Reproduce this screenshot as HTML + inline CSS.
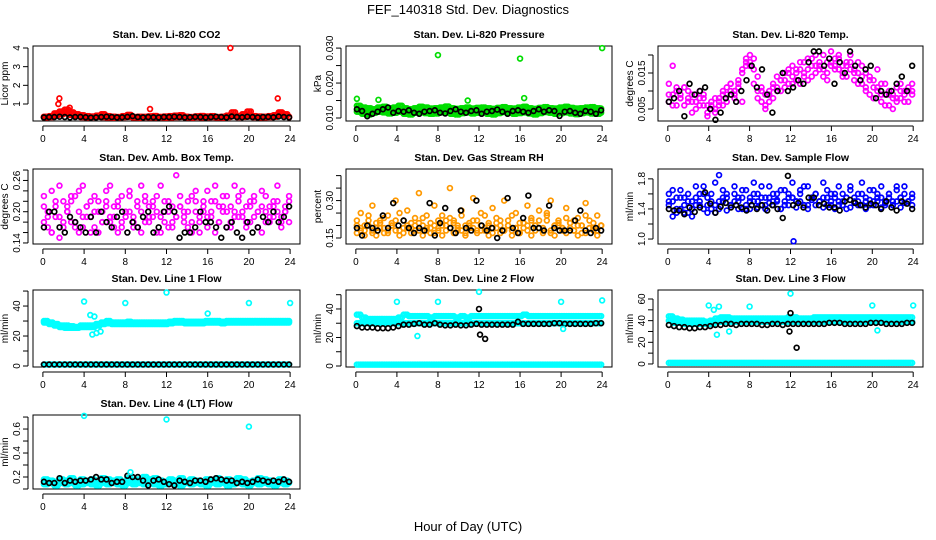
<!DOCTYPE html>
<html><head><meta charset="utf-8"><style>
body{margin:0;background:#fff;}
svg{display:block;font-family:"Liberation Sans",sans-serif;}
</style></head><body>
<svg id="chart" width="936" height="540" viewBox="0 0 936 540" xmlns="http://www.w3.org/2000/svg">
<text x="468" y="14" text-anchor="middle" font-size="13">FEF_140318  Std. Dev. Diagnostics</text>
<text x="468" y="531" text-anchor="middle" font-size="13">Hour of Day (UTC)</text>
</svg>
<script>
// ---------- data ----------
const hourTicks=[0,4,8,12,16,20,24];
const co2Red=[0.32,0.35,0.5,0.6,0.7,0.55,0.45,0.4,0.35,0.33,0.38,0.45,0.35,0.32,0.3,0.35,0.42,0.3,0.32,0.31,0.34,0.36,0.3,0.33,0.35,0.38,0.4,0.32,0.3,0.34,0.36,0.33,0.35,0.3,0.32,0.38,0.55,0.35,0.45,0.6,0.35,0.33,0.32,0.35,0.4,0.55,0.45,0.32];
const co2Red2=[0.28,0.3,0.4,0.45,0.5,0.42,0.36,0.3,0.28,0.3,0.32,0.3,0.28,0.27,0.29,0.3,0.31,0.28,0.27,0.3,0.29,0.28,0.3,0.27,0.28,0.3,0.31,0.28,0.27,0.3,0.28,0.29,0.3,0.28,0.27,0.3,0.35,0.3,0.31,0.33,0.3,0.28,0.29,0.3,0.32,0.5,0.4,0.28];
const co2Black=[0.28,0.3,0.3,0.32,0.3,0.28,0.3,0.31,0.29,0.27,0.28,0.3,0.32,0.3,0.28,0.29,0.31,0.35,0.3,0.28,0.3,0.29,0.28,0.3,0.3,0.32,0.3,0.28,0.29,0.31,0.3,0.28,0.3,0.32,0.3,0.28,0.33,0.3,0.29,0.32,0.3,0.28,0.3,0.31,0.29,0.33,0.3,0.28];
const co2OutT=[18.2,1.6,1.5,22.8,10.4,2.6];
const co2OutV=[4.0,1.3,1.0,1.3,0.73,0.8];
const presGreen=[0.0135,0.013,0.0128,0.0125,0.013,0.0132,0.0128,0.013,0.0135,0.0128,0.0125,0.0128,0.0132,0.013,0.0127,0.0128,0.013,0.0133,0.0128,0.0126,0.0128,0.013,0.0127,0.0129,0.013,0.0128,0.0126,0.0129,0.0131,0.0128,0.0127,0.013,0.0132,0.0128,0.0126,0.0129,0.0131,0.0128,0.0127,0.013,0.0132,0.0129,0.0127,0.0128,0.013,0.0131,0.0128,0.0127];
const presGreen2=[0.0118,0.0112,0.011,0.0115,0.0118,0.0116,0.0113,0.0115,0.0118,0.0112,0.011,0.0115,0.0117,0.0114,0.0112,0.0113,0.0116,0.0118,0.0112,0.011,0.0114,0.0116,0.0113,0.0115,0.0117,0.0112,0.011,0.0114,0.0117,0.0115,0.0112,0.0114,0.0116,0.0113,0.011,0.0114,0.0117,0.0115,0.0112,0.0114,0.0116,0.0113,0.0111,0.0114,0.0116,0.0113,0.0112,0.0115];
const presBlack=[0.0125,0.012,0.0105,0.0112,0.0118,0.0125,0.013,0.0115,0.012,0.0118,0.0122,0.0115,0.0112,0.0118,0.012,0.0122,0.0115,0.0113,0.012,0.0125,0.0118,0.0115,0.012,0.0122,0.0112,0.0118,0.012,0.0124,0.0118,0.0112,0.012,0.0122,0.0118,0.0115,0.012,0.0125,0.0118,0.0122,0.012,0.0106,0.0118,0.012,0.0115,0.0112,0.012,0.0118,0.0112,0.0122];
const presOutT=[8.0,16.0,24.0,0.1,16.4,2.2,10.9];
const presOutV=[0.028,0.027,0.030,0.0155,0.0157,0.0152,0.015];
const liTemp=[0.012,0.017,0.006,0.009,0.011,0.008,0.004,0.007,0.01,0.009,0.006,0.005,0.004,0.007,0.009,0.011,0.01,0.008,0.012,0.015,0.018,0.02,0.019,0.014,0.011,0.009,0.007,0.012,0.01,0.013,0.011,0.015,0.014,0.016,0.012,0.018,0.013,0.017,0.02,0.016,0.014,0.018,0.021,0.017,0.019,0.015,0.018,0.02,0.016,0.018,0.017,0.015,0.013,0.011,0.016,0.012,0.009,0.01,0.008,0.007,0.012,0.009,0.01,0.012];
const liTemp2=[0.007,0.009,0.011,0.008,0.006,0.01,0.007,0.009,0.006,0.008,0.003,0.006,0.008,0.006,0.01,0.007,0.012,0.009,0.011,0.007,0.017,0.018,0.016,0.01,0.007,0.006,0.01,0.008,0.011,0.013,0.015,0.012,0.017,0.013,0.016,0.015,0.019,0.014,0.017,0.018,0.016,0.013,0.017,0.019,0.016,0.014,0.017,0.018,0.015,0.012,0.014,0.011,0.009,0.013,0.01,0.007,0.006,0.009,0.005,0.008,0.01,0.007,0.011,0.009];
const liTemp3=[0.009,0.006,0.01,0.008,0.011,0.007,0.009,0.005,0.008,0.006,0.004,0.007,0.005,0.008,0.006,0.009,0.012,0.01,0.013,0.016,0.019,0.017,0.012,0.008,0.01,0.005,0.009,0.011,0.014,0.01,0.013,0.016,0.012,0.015,0.018,0.014,0.016,0.019,0.015,0.017,0.02,0.015,0.018,0.016,0.02,0.017,0.014,0.016,0.013,0.015,0.012,0.01,0.014,0.008,0.011,0.009,0.012,0.006,0.009,0.011,0.008,0.01,0.007,0.01];
const liTempBlack=[0.007,0.008,0.01,0.003,0.012,0.009,0.01,0.011,0.005,0.002,0.004,0.008,0.009,0.007,0.01,0.013,0.017,0.011,0.016,0.009,0.004,0.01,0.015,0.01,0.011,0.013,0.012,0.018,0.021,0.021,0.017,0.019,0.012,0.018,0.015,0.021,0.017,0.013,0.016,0.017,0.008,0.01,0.009,0.01,0.012,0.014,0.01,0.017];
const ambMag=[0.21,0.17,0.24,0.19,0.15,0.22,0.2,0.18,0.23,0.16,0.25,0.21,0.19,0.17,0.22,0.2,0.24,0.18,0.21,0.16,0.23,0.19,0.2,0.17,0.22,0.25,0.18,0.21,0.19,0.23,0.16,0.2,0.22,0.18,0.27,0.21,0.19,0.17,0.23,0.2,0.18,0.22,0.24,0.19,0.16,0.21,0.23,0.2,0.18,0.25,0.22,0.19,0.17,0.21,0.23,0.2,0.24,0.18,0.21,0.19,0.22,0.17,0.2,0.23];
const ambMag2=[0.18,0.2,0.16,0.22,0.19,0.17,0.21,0.23,0.18,0.2,0.17,0.19,0.22,0.2,0.16,0.18,0.21,0.19,0.17,0.22,0.18,0.2,0.23,0.19,0.17,0.2,0.22,0.18,0.21,0.16,0.19,0.22,0.2,0.17,0.19,0.21,0.18,0.2,0.16,0.22,0.19,0.21,0.17,0.2,0.22,0.18,0.2,0.17,0.21,0.19,0.23,0.2,0.18,0.22,0.19,0.17,0.21,0.2,0.18,0.22,0.2,0.19,0.21,0.18];
const ambMag3=[0.23,0.19,0.16,0.21,0.25,0.18,0.2,0.22,0.17,0.24,0.19,0.21,0.16,0.23,0.2,0.18,0.22,0.25,0.19,0.21,0.17,0.2,0.24,0.18,0.21,0.16,0.23,0.19,0.22,0.2,0.25,0.18,0.17,0.21,0.19,0.23,0.2,0.22,0.18,0.24,0.16,0.2,0.19,0.22,0.25,0.18,0.21,0.23,0.17,0.2,0.19,0.24,0.21,0.18,0.22,0.2,0.16,0.23,0.19,0.21,0.25,0.18,0.2,0.22];
const ambBlack=[0.17,0.2,0.2,0.17,0.16,0.19,0.18,0.17,0.16,0.19,0.16,0.2,0.18,0.17,0.19,0.2,0.16,0.18,0.17,0.19,0.2,0.16,0.17,0.2,0.21,0.2,0.15,0.16,0.16,0.17,0.2,0.18,0.18,0.17,0.15,0.17,0.18,0.16,0.15,0.18,0.16,0.17,0.19,0.18,0.2,0.18,0.19,0.21];
const rhOrange=[0.2,0.25,0.18,0.22,0.28,0.19,0.21,0.17,0.24,0.2,0.3,0.18,0.22,0.26,0.19,0.2,0.33,0.23,0.18,0.21,0.28,0.19,0.24,0.2,0.35,0.22,0.18,0.26,0.2,0.19,0.31,0.22,0.18,0.24,0.2,0.27,0.19,0.22,0.3,0.2,0.18,0.25,0.21,0.19,0.28,0.22,0.2,0.26,0.18,0.24,0.3,0.2,0.22,0.19,0.27,0.21,0.18,0.23,0.2,0.29,0.22,0.19,0.24,0.2];
const rhOrange2=[0.17,0.19,0.16,0.2,0.18,0.16,0.22,0.19,0.17,0.21,0.18,0.16,0.19,0.2,0.17,0.18,0.21,0.16,0.19,0.17,0.2,0.18,0.16,0.22,0.19,0.17,0.2,0.18,0.16,0.21,0.19,0.17,0.2,0.18,0.16,0.19,0.21,0.17,0.18,0.2,0.16,0.19,0.17,0.21,0.18,0.16,0.2,0.19,0.17,0.22,0.18,0.16,0.2,0.19,0.17,0.21,0.18,0.16,0.2,0.17,0.19,0.18,0.16,0.2];
const rhOrange3=[0.22,0.18,0.2,0.24,0.17,0.21,0.19,0.23,0.18,0.2,0.22,0.25,0.17,0.19,0.21,0.23,0.18,0.2,0.24,0.19,0.17,0.22,0.2,0.18,0.23,0.21,0.19,0.24,0.17,0.2,0.22,0.18,0.25,0.19,0.21,0.17,0.23,0.2,0.18,0.22,0.24,0.19,0.17,0.21,0.2,0.23,0.18,0.22,0.19,0.25,0.17,0.2,0.21,0.18,0.23,0.19,0.22,0.2,0.17,0.24,0.19,0.21,0.18,0.2];
const rhBlack=[0.19,0.16,0.2,0.19,0.18,0.24,0.19,0.29,0.2,0.22,0.19,0.17,0.19,0.18,0.29,0.16,0.21,0.27,0.19,0.17,0.26,0.19,0.18,0.3,0.2,0.18,0.19,0.15,0.18,0.31,0.19,0.17,0.23,0.32,0.19,0.19,0.18,0.28,0.19,0.18,0.18,0.18,0.22,0.26,0.18,0.17,0.19,0.18];
const flowBlue=[1.6,1.5,1.4,1.65,1.55,1.35,1.5,1.7,1.45,1.6,1.55,1.4,1.75,1.85,1.5,1.6,1.45,1.7,1.55,1.4,1.65,1.5,1.75,1.6,1.45,1.55,1.7,1.5,1.6,1.4,1.65,1.55,1.75,1.5,1.6,1.45,1.7,1.55,1.6,1.5,1.75,1.45,1.6,1.55,1.7,1.5,1.4,1.65,1.55,1.6,1.75,1.5,1.45,1.65,1.55,1.7,1.5,1.6,1.45,1.65,1.55,1.7,1.5,1.6];
const flowBlue2=[1.45,1.3,1.55,1.4,1.35,1.5,1.3,1.45,1.6,1.4,1.35,1.5,1.45,1.4,1.55,1.38,1.45,1.5,1.4,1.55,1.45,1.4,1.5,1.42,1.55,1.4,1.48,1.45,1.52,1.4,1.5,1.45,1.55,1.42,1.5,1.45,1.4,1.52,1.45,1.5,1.42,1.55,1.45,1.4,1.5,1.45,1.55,1.42,1.48,1.5,1.45,1.4,1.52,1.45,1.5,1.42,1.48,1.55,1.45,1.5,1.42,1.48,1.5,1.45];
const flowBlue3=[1.5,1.65,1.35,1.55,1.45,1.6,1.4,1.55,1.5,1.7,1.45,1.6,1.35,1.5,1.65,1.55,1.45,1.6,1.5,1.65,1.4,1.55,1.6,1.5,1.7,1.45,1.55,1.6,1.5,1.65,1.45,1.6,1.55,1.5,1.65,1.7,1.45,1.55,1.6,1.5,1.55,1.65,1.5,1.6,1.45,1.6,1.55,1.7,1.5,1.45,1.6,1.55,1.65,1.5,1.6,1.55,1.45,1.6,1.5,1.7,1.55,1.6,1.5,1.55];
const flowBlack=[1.4,1.38,1.38,1.33,1.42,1.36,1.42,1.62,1.47,1.35,1.43,1.48,1.42,1.45,1.42,1.38,1.45,1.4,1.45,1.38,1.45,1.4,1.28,1.84,1.45,1.48,1.42,1.55,1.55,1.45,1.47,1.42,1.42,1.38,1.5,1.52,1.48,1.45,1.42,1.47,1.45,1.4,1.5,1.42,1.38,1.5,1.47,1.4];
const flowOutT=[12.3];
const flowOutV=[0.97];
const line1Cyan=[30,29,28,27,27,26.5,26,27,27,27,28,29,30,29,29,29,29.5,29,29,29,29,29,29,29,29.5,30,30,29.5,29.5,29.5,29.5,30,30,30,29.5,30,30,30,30,30,30,30,30,30,30,30,30,30];
const line1Cyan2=[29,28,27,26,25.5,25.5,25.5,26,26,26,27,28,28.5,28,28,28,28,28,28,28,28,28,28,28,28.5,29,29,28.5,28.5,28.5,28.5,29,29,29,28.5,29,29,29,29,29,29,29,29,29,29,29,29,29];
const line1Zero=[1,1,1,1,1,1,1,1,1,1,1,1,1,1,1,1,1,1,1,1,1,1,1,1,1,1,1,1,1,1,1,1,1,1,1,1,1,1,1,1,1,1,1,1,1,1,1,1];
const line1OutT=[4,8,12,16,20,24,4.6,5,4.8,5.2,5.6];
const line1OutV=[43,42,49,35,42,42,34,33,21,22,23];
const line2Cyan=[36,34,33,33,33,33,33,33,34,36,35,35,35,35,34,35,35,35,35,34,35,34,35,35,35,35,35,35,35,35,35,35,36,35,35,35,35,35,35,35,35,35,35,35,35,35,35,35];
const line2Cyan2=[30,30,30,30,30,30,30,30,30,30,30,30,30,30,30,30,30,30,30,30,30,30,30,30,30,30,30,30,30,30,30,30,30,30,30,30,30,30,30,30,30,30,30,30,30,30,30,30];
const line2Black=[28,27,27,27,26.5,26.5,26.5,27,28,29,29,29.5,30,29,29,30,29,28.5,28.5,29,28.5,28.5,29,29.5,29,29,29,29,29,29,29,31,29.5,29.5,29.5,29.5,29.5,29.5,30,30,29.5,29.5,29.5,29.5,29.5,29.5,30,30];
const line2OutT=[4,8,12,20,24,6,20.2,12,12.1,12.6];
const line2OutV=[45,45,52,45,46,21,26,40,22,19];
const line3Cyan=[44,42,41,40,40,40,40,39,40,42,43,43,42,42,42,42,42,42,42,42,42,42,42,43,43,42,42,42,43,43,43,43,43,43,43,43,43,43,43,43,43,43,43,43,43,43,43,43];
const line3Cyan2=[40,38,38,37,37,37,37,37,37,39,39,39,39,39,39,39,39,39,39,39,39,39,39,39,39,39,39,39,39,39,39,39,39,39,39,39,39,39,39,39,39,39,39,39,39,39,39,39];
const line3Black=[36,35,34,34,33,33,34,34,35,36,36,37,37,36,37,37,37,37,36,36,37,37,36,37,37,37,37,37,37,37,37,38,38,38,37,37,37,37,37,38,38,38,37,37,37,37,38,38];
const line3OutT=[4,8,12,20,24,4.5,5,4.8,6,20.5,12,11.9,12.6];
const line3OutV=[54,53,65,54,54,50,53,27,30,31,47,30,15];
const line4Cyan=[0.18,0.17,0.16,0.18,0.17,0.19,0.16,0.18,0.17,0.18,0.16,0.19,0.18,0.17,0.18,0.16,0.19,0.17,0.18,0.2,0.18,0.19,0.17,0.16,0.18,0.17,0.19,0.16,0.18,0.17,0.16,0.18,0.17,0.19,0.16,0.18,0.17,0.19,0.18,0.16,0.17,0.19,0.18,0.17,0.16,0.18,0.17,0.16];
const line4Cyan2=[0.14,0.15,0.13,0.15,0.14,0.15,0.13,0.14,0.15,0.14,0.13,0.15,0.14,0.15,0.14,0.13,0.15,0.14,0.15,0.14,0.15,0.14,0.13,0.14,0.15,0.14,0.13,0.15,0.14,0.15,0.14,0.13,0.15,0.14,0.15,0.13,0.14,0.15,0.14,0.13,0.15,0.14,0.15,0.14,0.13,0.15,0.14,0.15];
const line4Black=[0.16,0.15,0.15,0.19,0.15,0.17,0.16,0.17,0.17,0.18,0.2,0.18,0.18,0.15,0.16,0.16,0.21,0.2,0.2,0.17,0.13,0.17,0.18,0.16,0.14,0.13,0.17,0.16,0.15,0.17,0.17,0.16,0.18,0.19,0.18,0.17,0.17,0.15,0.16,0.15,0.16,0.18,0.17,0.16,0.17,0.16,0.18,0.16];
const line4OutT=[4,12,20,8.5];
const line4OutV=[0.71,0.68,0.62,0.24];

// ---------- layout ----------
const NS="http://www.w3.org/2000/svg";
const svg=document.getElementById('chart');
const cols=[[33,300],[346,612],[658,923]];
const rows=[[46,121],[169,244],[290,367],[415,489]];
function mk(tag,attrs,parent){const e=document.createElementNS(NS,tag);for(const k in attrs)e.setAttribute(k,attrs[k]);(parent||svg).appendChild(e);return e;}
const RED='#ff0000',GRN='#00dd00',MAG='#ff00ff',ORG='#ff9900',BLU='#0000ff',CYN='#00ffff',BLK='#000000';
// series entries: [values, colour, repeat-density]
const panels=[
 {key:'co2',c:0,r:0,title:'Stan. Dev. Li-820 CO2',yl:'Licor ppm',ymin:0.089,ymax:4.107,ticks:[1,2,3,4],labels:[1,2,3,4],fmt:v=>String(v),
  series:[[co2Red,RED,3],[co2Red2,RED,3],[co2Black,BLK,1]],out:[[co2OutT,co2OutV,RED]]},
 {key:'pressure',c:1,r:0,title:'Stan. Dev. Li-820 Pressure',yl:'kPa',ymin:0.00914,ymax:0.0306,ticks:[0.010,0.015,0.020,0.025,0.030],labels:[0.010,0.020,0.030],fmt:v=>v.toFixed(3),
  series:[[presGreen,GRN,3],[presGreen2,GRN,3],[presBlack,BLK,1]],out:[[presOutT,presOutV,GRN]]},
 {key:'li-temp',c:2,r:0,title:'Stan. Dev. Li-820 Temp.',yl:'degrees C',ymin:0.00167,ymax:0.0225,ticks:[0.005,0.010,0.015,0.020],labels:[0.005,0.015],fmt:v=>v.toFixed(3),
  series:[[liTemp,MAG,1],[liTemp2,MAG,1],[liTemp3,MAG,1],[liTempBlack,BLK,1]],out:[]},
 {key:'amb-temp',c:0,r:1,title:'Stan. Dev. Amb. Box Temp.',yl:'degrees C',ymin:0.138,ymax:0.282,ticks:[0.14,0.16,0.18,0.20,0.22,0.24,0.26,0.28],labels:[0.14,0.20,0.26],fmt:v=>v.toFixed(2),
  series:[[ambMag,MAG,1],[ambMag2,MAG,1],[ambMag3,MAG,1],[ambBlack,BLK,1]],out:[]},
 {key:'rh',c:1,r:1,title:'Stan. Dev. Gas Stream RH',yl:'percent',ymin:0.126,ymax:0.4265,ticks:[0.15,0.20,0.25,0.30,0.35,0.40],labels:[0.15,0.30],fmt:v=>v.toFixed(2),
  series:[[rhOrange,ORG,1],[rhOrange2,ORG,1],[rhOrange3,ORG,1],[rhBlack,BLK,1]],out:[]},
 {key:'sample-flow',c:2,r:1,title:'Stan. Dev. Sample Flow',yl:'ml/min',ymin:0.934,ymax:1.931,ticks:[1.0,1.2,1.4,1.6,1.8],labels:[1.0,1.4,1.8],fmt:v=>v.toFixed(1),
  series:[[flowBlue,BLU,1],[flowBlue2,BLU,1],[flowBlue3,BLU,1],[flowBlack,BLK,1]],out:[[flowOutT,flowOutV,BLU]]},
 {key:'line1',c:0,r:2,title:'Stan. Dev. Line 1 Flow',yl:'ml/min',ymin:-0.67,ymax:50.7,ticks:[0,10,20,30,40,50],labels:[0,20,40],fmt:v=>String(v),
  series:[[line1Cyan,CYN,3],[line1Cyan2,CYN,3],[line1Zero,CYN,3],[line1Zero,BLK,1]],out:[[line1OutT,line1OutV,CYN]]},
 {key:'line2',c:1,r:2,title:'Stan. Dev. Line 2 Flow',yl:'ml/min',ymin:-0.7,ymax:53.3,ticks:[0,10,20,30,40,50],labels:[0,20,40],fmt:v=>String(v),
  series:[[line2Cyan,CYN,3],[line2Cyan2,CYN,3],[line1Zero,CYN,3],[line2Black,BLK,1]],out:[[line2OutT.slice(0,7),line2OutV.slice(0,7),CYN],[line2OutT.slice(7),line2OutV.slice(7),BLK]]},
 {key:'line3',c:2,r:2,title:'Stan. Dev. Line 3 Flow',yl:'ml/min',ymin:-2.8,ymax:68.3,ticks:[0,10,20,30,40,50,60],labels:[0,20,40,60],fmt:v=>String(v),
  series:[[line3Cyan,CYN,3],[line3Cyan2,CYN,3],[line1Zero,CYN,3],[line3Black,BLK,1]],out:[[line3OutT.slice(0,10),line3OutV.slice(0,10),CYN],[line3OutT.slice(10),line3OutV.slice(10),BLK]]},
 {key:'line4',c:0,r:3,title:'Stan. Dev. Line 4 (LT) Flow',yl:'ml/min',ymin:0.1,ymax:0.717,ticks:[0.1,0.2,0.3,0.4,0.5,0.6,0.7],labels:[0.2,0.4,0.6],fmt:v=>v.toFixed(1),
  series:[[line4Cyan,CYN,3],[line4Cyan2,CYN,3],[line4Black,BLK,1]],out:[[line4OutT,line4OutV,CYN]]}
];

panels.forEach(p=>{
 const [L,R]=cols[p.c],[T,B]=rows[p.r];
 const xs=t=>L+(t+0.96)/25.92*(R-L);
 const ys=v=>B-(v-p.ymin)/(p.ymax-p.ymin)*(B-T);
 const g=mk('g',{});
 
 
 const tt=mk('text',{x:(L+R)/2,y:T-8,'text-anchor':'middle','font-size':'10.5','font-weight':'bold'},g);
 tt.textContent=p.title;
 
 
 const fr=mk('rect',{x:L,y:T,width:R-L,height:B-T,fill:'none',stroke:'#000','stroke-width':1},g);
 
 
 const xa=mk('g',{},g);
 
 
 mk('line',{x1:xs(0),x2:xs(24),y1:B+5,y2:B+5,stroke:'#000'},xa);
 hourTicks.forEach(h=>{
  mk('line',{x1:xs(h),x2:xs(h),y1:B+5,y2:B+10,stroke:'#000'},xa);
  const t=mk('text',{x:xs(h),y:B+21,'text-anchor':'middle','font-size':'10'},xa);t.textContent=h;
 });
 const ya=mk('g',{},g);
 
 
 mk('line',{x1:L-5,x2:L-5,y1:ys(p.ticks[0]),y2:ys(p.ticks[p.ticks.length-1]),stroke:'#000'},ya);
 p.ticks.forEach(v=>mk('line',{x1:L-10,x2:L-5,y1:ys(v),y2:ys(v),stroke:'#000'},ya));
 p.labels.forEach(v=>{
  const t=mk('text',{x:0,y:0,'text-anchor':'middle','font-size':'10',transform:`translate(${L-13},${ys(v)}) rotate(-90)`},ya);t.textContent=p.fmt(v);
 });
 const yl=mk('text',{'text-anchor':'middle','font-size':'10',transform:`translate(${L-25},${(T+B)/2}) rotate(-90)`},g);
 yl.textContent=p.yl;
 
 
 p.series.forEach(([vals,col,dens],si)=>{
  const sg=mk('g',{fill:'none',stroke:col,'stroke-width':1.7},g);
  
  
  const n=vals.length, step=23.8/(n-1);
  vals.forEach((v,i)=>{
   for(let k=0;k<dens;k++){
    const t=0.1+i*step+k*step/dens;
    if(t>23.95)continue;
    const c=mk('circle',{cx:xs(t),cy:ys(v),r:2.4},sg);
    
    
   }
  });
 });
 p.out.forEach(([ts,vs,col],oi)=>{
  const og=mk('g',{fill:'none',stroke:col,'stroke-width':1.7},g);
  
  
  ts.forEach((t,i)=>{
   const c=mk('circle',{cx:xs(t),cy:ys(vs[i]),r:2.4},og);
   
   
  });
 });
});
</script>
</body></html>
